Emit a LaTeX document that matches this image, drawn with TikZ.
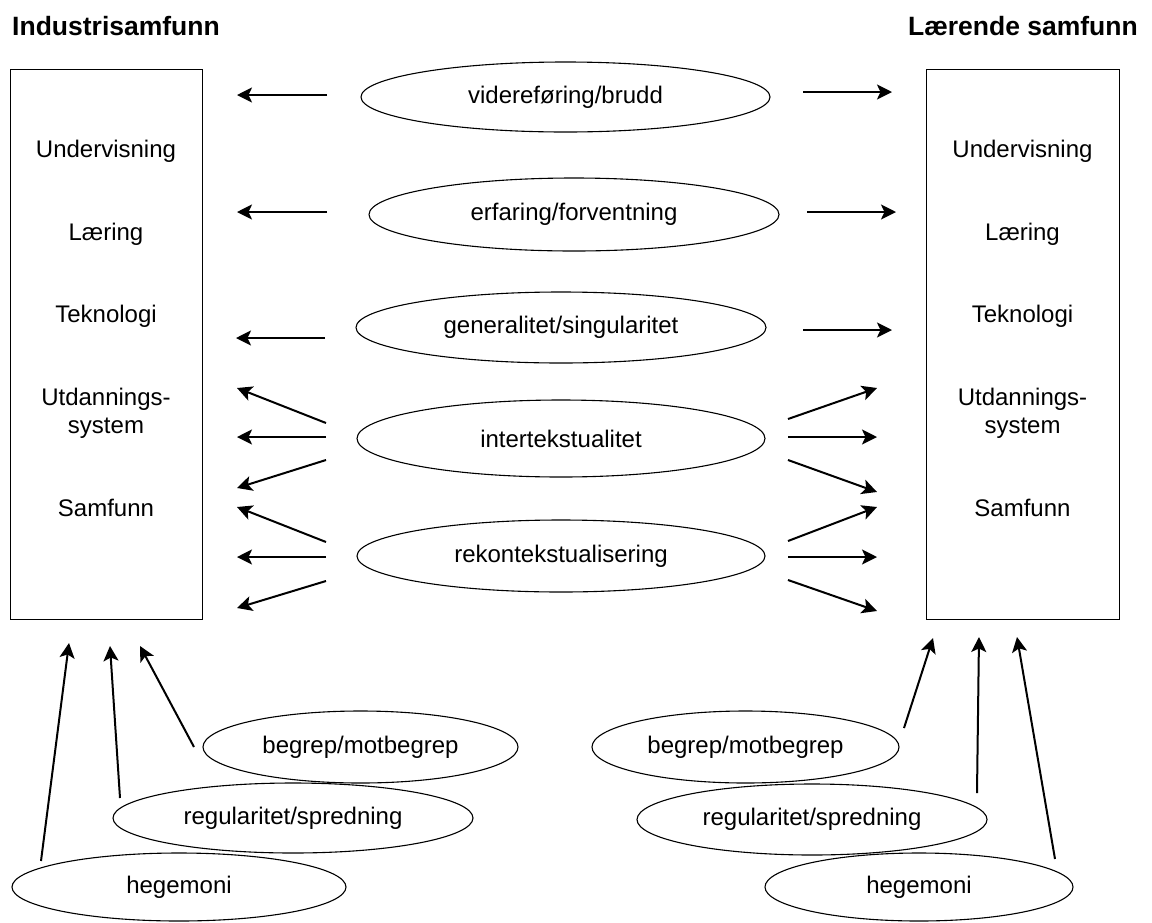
\documentclass[tikz,border=0pt]{standalone}
\usepackage{fontspec}
\setmainfont{Liberation Sans}
\usetikzlibrary{arrows.meta,shapes.geometric}
\begin{document}
\begin{tikzpicture}[x=1pt,y=-1pt,
  lbl/.style={font=\fontsize{24}{28}\selectfont, inner sep=0},
  ttl/.style={font=\fontsize{26.5}{31}\selectfont\bfseries, inner sep=0},
  oval/.style={draw, ellipse, line width=1.1pt, inner sep=0, font=\fontsize{24}{28}\selectfont},
  panel/.style={draw, line width=1.3pt, inner sep=0, anchor=north west},
  arr/.style={-{Stealth[length=15pt,width=15pt,inset=3.5pt]}, line width=2pt}]
\useasboundingbox (0,0) rectangle (1152,922);

% titles
\node[ttl, anchor=base west] (tl) at (12,35) {Industrisamfunn};
\node[ttl, anchor=base east] (tr) at (1138,35) {Lærende samfunn};

% boxes
\node[panel, minimum width=192, minimum height=550] (L) at (10,69) {};
\node[panel, minimum width=193, minimum height=550] (R) at (926,69) {};

% left box labels
\node[lbl, anchor=base] (l1) at (106,157) {Undervisning};
\node[lbl, anchor=base] (l2) at (106,240) {Læring};
\node[lbl, anchor=base] (l3) at (106,322) {Teknologi};
\node[lbl, anchor=base] (l4a) at (106,405) {Utdannings-};
\node[lbl, anchor=base] (l4b) at (106,433) {system};
\node[lbl, anchor=base] (l5) at (106,516) {Samfunn};
% right box labels
\node[lbl, anchor=base] (r1) at (1022.5,157) {Undervisning};
\node[lbl, anchor=base] (r2) at (1022.5,240) {Læring};
\node[lbl, anchor=base] (r3) at (1022.5,322) {Teknologi};
\node[lbl, anchor=base] (r4a) at (1022.5,405) {Utdannings-};
\node[lbl, anchor=base] (r4b) at (1022.5,433) {system};
\node[lbl, anchor=base] (r5) at (1022.5,516) {Samfunn};

% central ellipses
\node[oval, minimum width=409, minimum height=70] (e1) at (565.5,97) {videreføring/brudd};
\node[oval, minimum width=410, minimum height=73] (e2) at (574,214.5) {erfaring/forventning};
\node[oval, minimum width=410, minimum height=71] (e3) at (561,327.5) {generalitet/singularitet};
\node[oval, minimum width=408, minimum height=77] (e4) at (561,438.5) {intertekstualitet};
\node[oval, minimum width=408, minimum height=72] (e5) at (561,556) {rekontekstualisering};

% bottom ellipses
\node[oval, minimum width=315, minimum height=72] (bl1) at (360.5,747) {begrep/motbegrep};
\node[oval, minimum width=360, minimum height=70] (bl2) at (293,818) {regularitet/spredning};
\node[oval, minimum width=334, minimum height=68] (bl3) at (179,887) {hegemoni};
\node[oval, minimum width=307, minimum height=72] (br1) at (745.5,747) {begrep/motbegrep};
\node[oval, minimum width=350, minimum height=71] (br2) at (812,819.5) {regularitet/spredning};
\node[oval, minimum width=308, minimum height=68] (br3) at (919,887) {hegemoni};

% arrow end points
\coordinate (a1t) at (327,95);  \coordinate (a1h) at (237,95);
\coordinate (a2t) at (327,212); \coordinate (a2h) at (237,212);
\coordinate (a3t) at (325,338); \coordinate (a3h) at (236,338);
\coordinate (a4t1) at (326,423); \coordinate (a4h1) at (237,388);
\coordinate (a4t2) at (326,437); \coordinate (a4h2) at (237,437);
\coordinate (a4t3) at (326,460); \coordinate (a4h3) at (237,488);
\coordinate (a5t1) at (326,542); \coordinate (a5h1) at (237,507);
\coordinate (a5t2) at (326,557); \coordinate (a5h2) at (237,557);
\coordinate (a5t3) at (326,581); \coordinate (a5h3) at (237,608);

\coordinate (b1t) at (803,92);  \coordinate (b1h) at (892,92);
\coordinate (b2t) at (807,212); \coordinate (b2h) at (896,212);
\coordinate (b3t) at (803,330); \coordinate (b3h) at (892,330);
\coordinate (b4t1) at (788,419); \coordinate (b4h1) at (877,388);
\coordinate (b4t2) at (788,437); \coordinate (b4h2) at (877,437);
\coordinate (b4t3) at (788,460); \coordinate (b4h3) at (877,492);
\coordinate (b5t1) at (788,541); \coordinate (b5h1) at (877,507);
\coordinate (b5t2) at (788,557); \coordinate (b5h2) at (877,557);
\coordinate (b5t3) at (788,580); \coordinate (b5h3) at (877,611);

\coordinate (c1t) at (41,861);  \coordinate (c1h) at (69,643);
\coordinate (c2t) at (120,798); \coordinate (c2h) at (110,646);
\coordinate (c3t) at (194,747); \coordinate (c3h) at (140,646);
\coordinate (d1t) at (904,728); \coordinate (d1h) at (933,638);
\coordinate (d2t) at (977,793); \coordinate (d2h) at (979,637);
\coordinate (d3t) at (1055,859); \coordinate (d3h) at (1017,637);

% arrows
\foreach \p in {a1,a2,a3,b1,b2,b3,c1,c2,c3,d1,d2,d3}
  \draw[arr] (\p t) -- (\p h);
\foreach \p in {a4,a5,b4,b5}
  \foreach \i in {1,2,3}
    \draw[arr] (\p t\i) -- (\p h\i);
\end{tikzpicture}
\end{document}
